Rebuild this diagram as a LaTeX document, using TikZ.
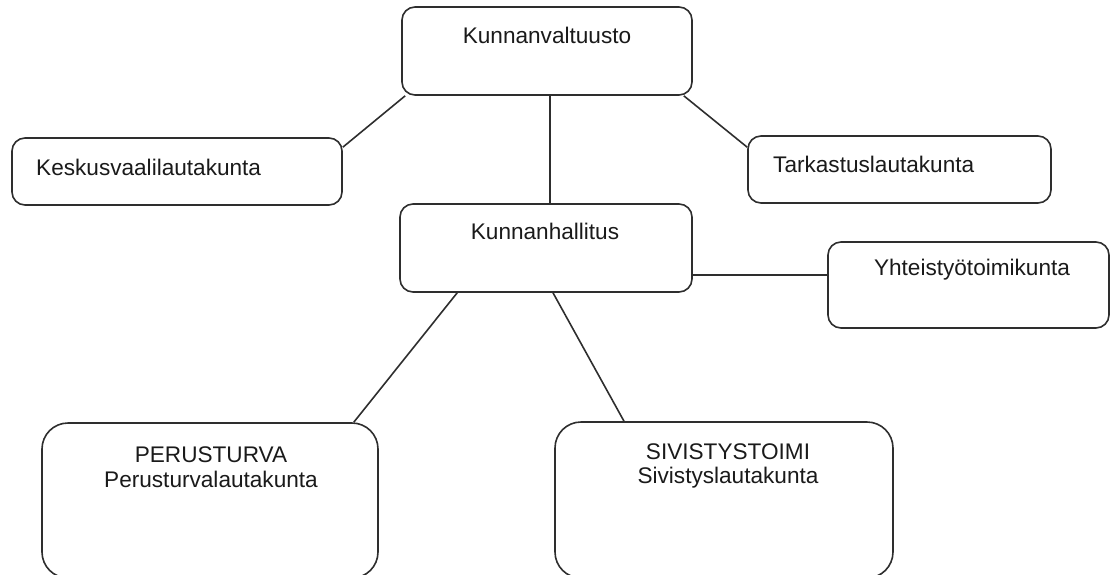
\documentclass[tikz,border=0pt]{standalone}
\usepackage{fontspec}
\setmainfont{Liberation Sans}
\begin{document}
\begin{tikzpicture}[x=1pt,y=-1pt,
  box/.style={draw=linec, line width=1.6pt, rounded corners=13pt, inner sep=0pt},
  bigbox/.style={box, rounded corners=26pt},
  lbl/.style={inner sep=0pt, text=textc, font=\fontsize{22.6}{25}\selectfont, anchor=base},
  conn/.style={draw=linec, line width=1.6pt}]
\definecolor{linec}{HTML}{2E2E2E}
\definecolor{textc}{HTML}{1A1A1A}
\useasboundingbox (0,0) rectangle (1112,574);
% boxes
\node[box, minimum width=290pt, minimum height=88pt] (kv) at (547,51) {};
\node[box, minimum width=330pt, minimum height=67pt] (kes) at (177,171.5) {};
\node[box, minimum width=303pt, minimum height=67pt] (tark) at (899.5,169.5) {};
\node[box, minimum width=292pt, minimum height=88pt] (kh) at (546,248) {};
\node[box, minimum width=281pt, minimum height=86pt] (yht) at (968.5,285) {};
\node[bigbox, minimum width=336pt, minimum height=155pt] (per) at (210,500.5) {};
\node[bigbox, minimum width=338pt, minimum height=156pt] (siv) at (724,500) {};
% texts
\node[lbl] (tkv) at (547,43) {Kunnanvaltuusto};
\node[lbl, anchor=base west] (tkes) at (36,175) {Keskusvaalilautakunta};
\node[lbl, anchor=base west] (ttark) at (773,172) {Tarkastuslautakunta};
\node[lbl] (tkh) at (545,239) {Kunnanhallitus};
\node[lbl] (tyht) at (972,275) {Yhteistyötoimikunta};
\node[lbl] (tper1) at (211,462) {PERUSTURVA};
\node[lbl] (tper2) at (211,487) {Perusturvalautakunta};
\node[lbl] (tsiv1) at (728,459) {SIVISTYSTOIMI};
\node[lbl] (tsiv2) at (728,483) {Sivistyslautakunta};
% connectors
\draw[conn] ([xshift=4pt]kv.south west) -- ([yshift=-10pt]kes.north east);
\draw[conn] ([xshift=-9pt]kv.south east) -- ([yshift=-12pt]tark.north west);
\draw[conn] ([xshift=3pt]kv.south) -- ([xshift=4pt]kh.north);
\coordinate (khe) at ([yshift=10pt]kh.east |- yht.center);
\draw[conn] (khe) -- (khe -| yht.west);
\draw[conn] ([xshift=58pt]kh.south west) -- ([xshift=-25pt]per.north east);
\draw[conn] ([xshift=7pt]kh.south) -- ([xshift=-100pt]siv.north);
\end{tikzpicture}
\end{document}
